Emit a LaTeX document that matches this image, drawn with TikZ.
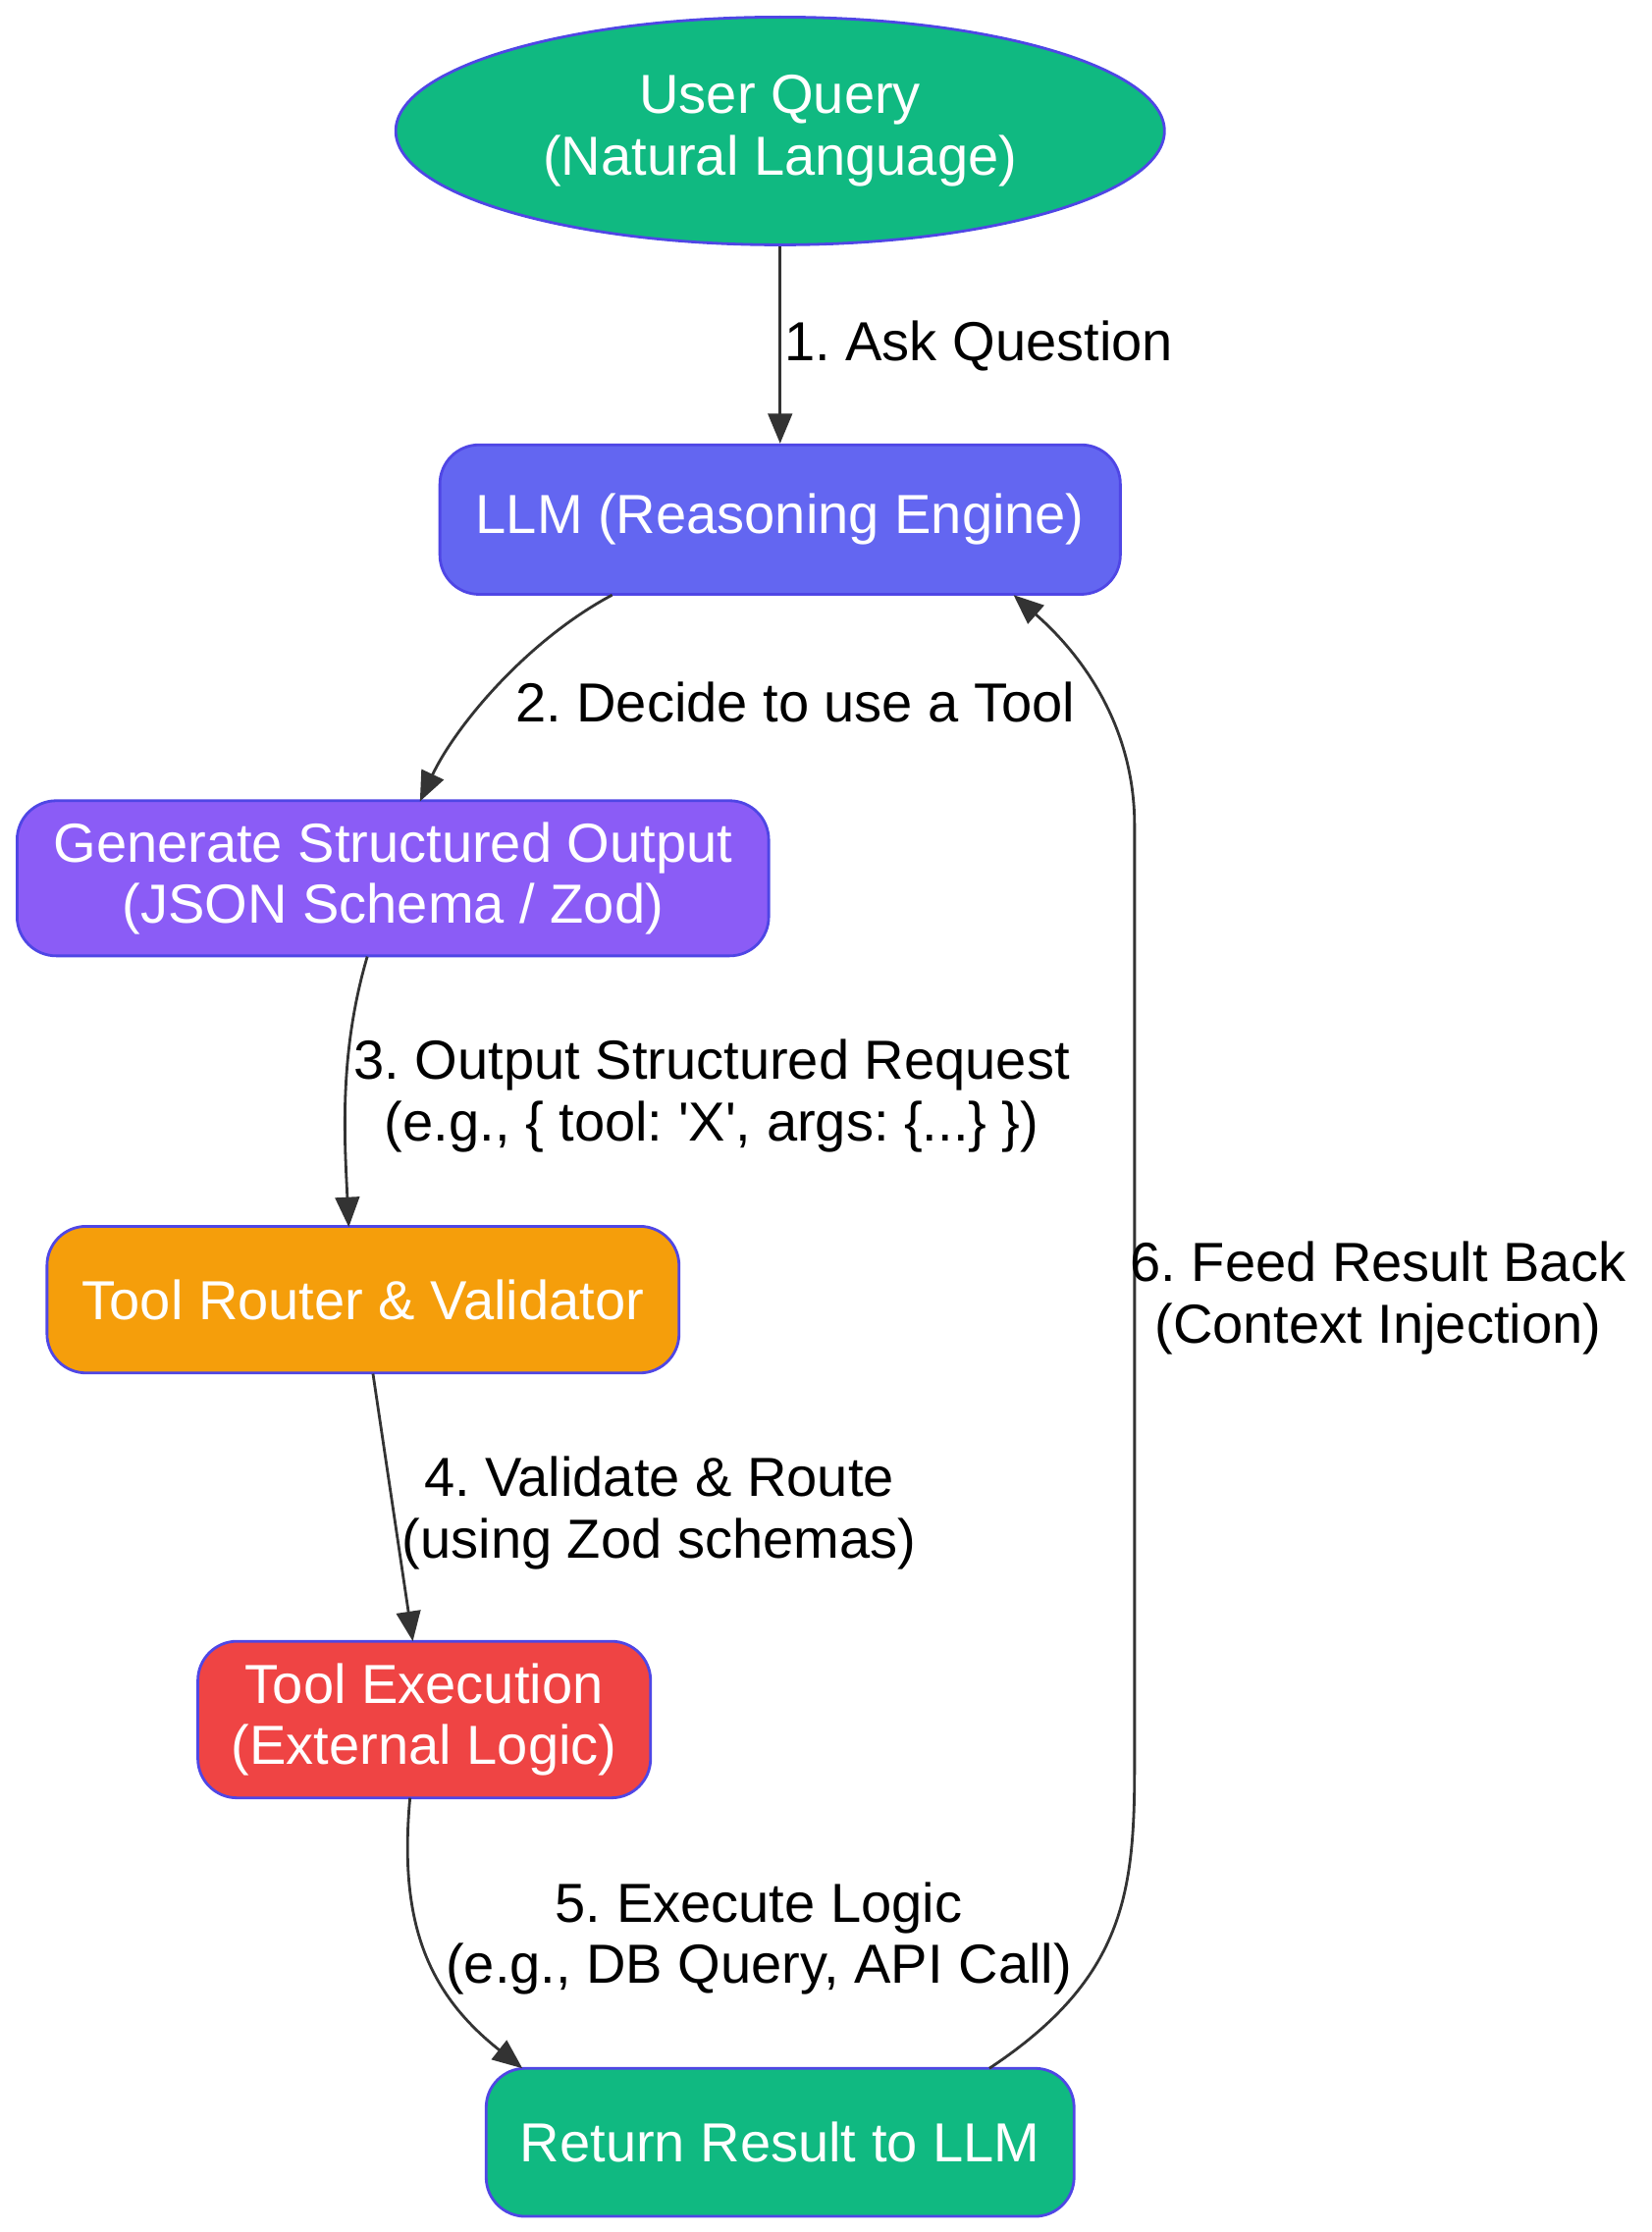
\documentclass[tikz,border=0pt]{standalone}
\usepackage{fontspec}
\setmainfont{Liberation Sans}
\newfontfamily\plainq{Liberation Sans}
\usetikzlibrary{shapes.geometric,arrows.meta}
\definecolor{bd}{HTML}{4F46E5}
\definecolor{ed}{HTML}{333333}
\definecolor{g}{HTML}{10B981}
\begin{document}
\frenchspacing
\begin{tikzpicture}[x=0.02cm,y=-0.02cm,
  fnt/.style={font=\fontsize{22}{24.5}\selectfont\frenchspacing},
  box/.style={fnt,draw=bd,line width=1.1pt,rounded corners=0.55cm,text=white,align=center},
  e/.style={draw=ed,line width=1.1pt,-{Triangle[length=0.42cm,width=0.34cm]}},
  lab/.style={fnt,align=center,text=black,inner sep=1pt}]
\useasboundingbox (0,0) rectangle (1160,1568);
\node[ellipse,fnt,draw=bd,line width=1.1pt,fill=g,minimum width=540*0.02cm,minimum height=160*0.02cm,text=white,align=center] (uq) at (548,92) {User Query\\(Natural Language)};
\node[box,fill={rgb,255:red,99;green,102;blue,241},minimum width=478*0.02cm,minimum height=105*0.02cm] (llm) at (548,365) {LLM (Reasoning Engine)};
\node[box,fill={rgb,255:red,139;green,92;blue,246},minimum width=528*0.02cm,minimum height=109*0.02cm] (gen) at (276,617) {Generate Structured Output\\(JSON Schema / Zod)};
\node[box,fill={rgb,255:red,245;green,158;blue,11},minimum width=444*0.02cm,minimum height=103*0.02cm] (tr) at (255,913) {Tool Router \& Validator};
\node[box,fill={rgb,255:red,239;green,68;blue,68},minimum width=318*0.02cm,minimum height=110*0.02cm] (te) at (298,1208) {Tool Execution\\(External Logic)};
\node[box,fill=g,minimum width=413*0.02cm,minimum height=104*0.02cm] (rr) at (548,1505) {Return Result to LLM};
\draw[e] (uq.south) -- (llm.north);
\node[lab,anchor=west] (l1) at (549,243) {1. Ask Question};
\draw[e] (430,418) .. controls (370,450) and (320,510) .. (295,563);
\node[lab,anchor=west] (l2) at (360,493) {2. Decide to use a Tool};
\draw[e] (258,672) .. controls (238,740) and (242,800) .. (245,862);
\node[lab] (l3) at (500,770) {3. Output Structured Request\\(e.g., \{ tool: {\plainq'}X{\plainq'}, args: \{...\} \})};
\draw[e] (262,965) -- (290,1153);
\node[lab] (l4) at (463,1063) {4. Validate \& Route\\(using Zod schemas)};
\draw[e] (288,1263) .. controls (280,1350) and (300,1400) .. (367,1453);
\node[lab] (l5) at (533,1362) {5. Execute Logic\\(e.g., DB Query, API Call)};
\draw[e] (695,1453) .. controls (790,1390) and (797,1330) .. (797,1240) -- (797,580) .. controls (797,510) and (760,460) .. (712,418);
\node[lab] (l6) at (968,912) {6. Feed Result Back\\(Context Injection)};
\end{tikzpicture}
\end{document}
